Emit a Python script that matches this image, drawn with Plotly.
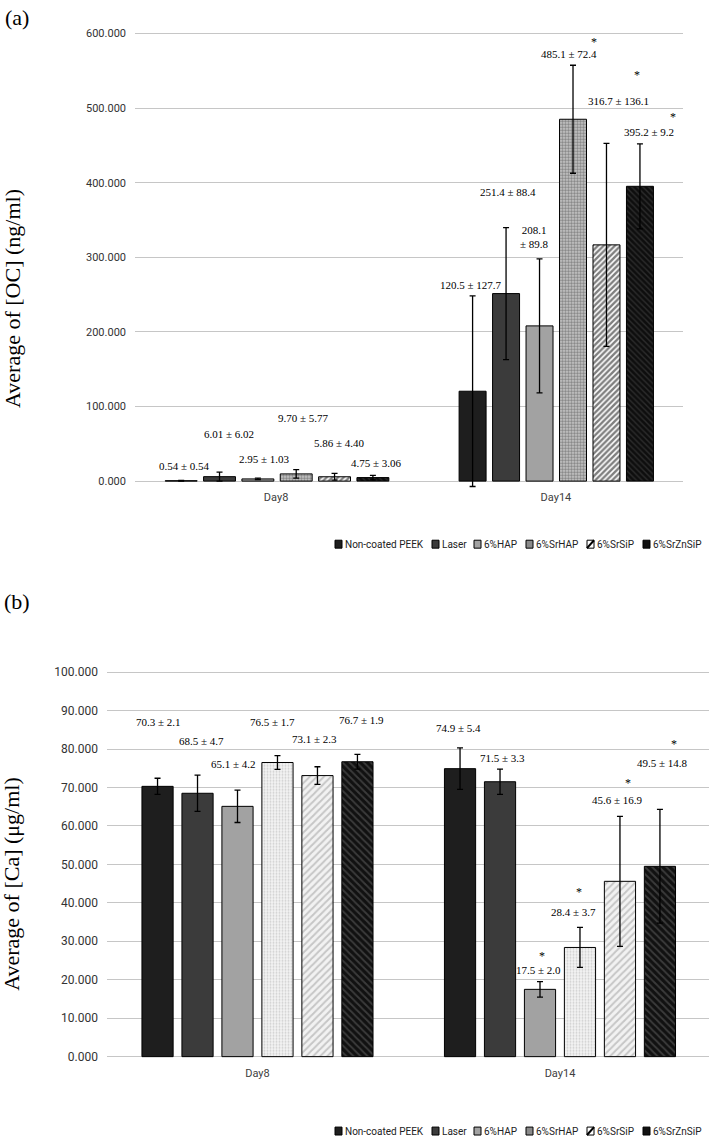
import plotly.graph_objects as go
from plotly.subplots import make_subplots

W, H = 709, 1144

groups = ["Non-coated PEEK", "Laser", "6%HAP", "6%SrHAP", "6%SrSiP", "6%SrZnSiP"]
days = ["Day8", "Day14"]

# (a) OC, ng/ml  (bar height, error half-width as drawn)
oc_day8 = [0.54, 6.01, 2.95, 9.70, 5.86, 4.75]
oc_day8_err = [0.54, 6.02, 1.03, 5.77, 4.40, 3.06]
oc_day14 = [120.5, 251.4, 208.1, 485.1, 316.7, 395.2]
oc_day14_err = [127.7, 88.4, 89.8, 72.4, 136.1, 57.0]
oc_day8_text = ["0.54 ± 0.54", "6.01 ± 6.02", "2.95 ± 1.03", "9.70 ± 5.77", "5.86 ± 4.40", "4.75 ± 3.06"]
oc_day14_text = ["120.5 ± 127.7", "251.4 ± 88.4", "208.1<br>± 89.8", "485.1 ± 72.4", "316.7 ± 136.1", "395.2 ± 9.2"]
oc_day8_text_y = [20, 63, 29, 84, 51, 24]
oc_day14_text_y = [263, 388, 327, 572, 509, 468]
oc_day14_star_y = [None, None, None, 593, 549, 492]

# (b) Ca, ug/ml
ca_day8 = [70.3, 68.5, 65.1, 76.5, 73.1, 76.7]
ca_day8_err = [2.1, 4.7, 4.2, 1.8, 2.3, 1.9]
ca_day14 = [74.9, 71.5, 17.5, 28.4, 45.6, 49.5]
ca_day14_err = [5.4, 3.3, 2.0, 5.2, 16.9, 14.8]
ca_day8_text = ["70.3 ± 2.1", "68.5 ± 4.7", "65.1 ± 4.2", "76.5 ± 1.7", "73.1 ± 2.3", "76.7 ± 1.9"]
ca_day14_text = ["74.9 ± 5.4", "71.5 ± 3.3", "17.5 ± 2.0", "28.4 ± 3.7", "45.6 ± 16.9", "49.5 ± 14.8"]
ca_day8_text_y = [87.1, 82.2, 76.0, 87.1, 82.7, 87.6]
ca_day14_text_y = [85.5, 77.8, 22.5, 37.5, 66.7, 76.5]
ca_day14_star_y = [None, None, 27.0, 43.6, 72.0, 82.2]

# label x offsets from bar centre (px)
oc_day8_dx = [3, 9, 7, 7, 5, 4]
oc_day14_dx = [-2, 2, -5, -4, 12, 9]
oc_star_dx = [0, 0, 0, 21, 31, 33]
ca_day8_dx = [1, 4, -4, -5, -3, 4]
ca_day14_dx = [-2, 2, -2, -6, -2, 3]
ca_star_dx = [0, 0, 2, -1, 8, 14]

# panel (a): Day8 and Day14 groups are drawn with different bar spacing
A_START = [-0.396, -0.346]
A_PITCH = [0.137, 0.1196]
A_WIDTH = [0.114, 0.0964]

# panel (b): ordinary grouped bars
B_BARGAP = 0.207
B_GROUPGAP = 0.22

SERIF = "Liberation Serif, Times New Roman, serif"
SANS = "Roboto, sans-serif"

colors = ["#1e1e1e", "#3b3b3b", "#a2a2a2", "#d9d9d9", "#ffffff", "#111111"]
patterns_a = [None, None, None,
              dict(shape=".", fgcolor="#3c3c3c", bgcolor="#cfcfcf", size=3, solidity=0.6),
              dict(shape="/", fgcolor="#000000", bgcolor="#ffffff", size=4, solidity=0.6),
              dict(shape="\\", fgcolor="#4a4a4a", bgcolor="#0e0e0e", size=4, solidity=0.35)]
patterns_b = [None, None, None,
              dict(shape=".", fgcolor="#a8a8a8", bgcolor="#f4f4f4", size=3, solidity=0.35),
              dict(shape="/", fgcolor="#9a9a9a", bgcolor="#f2f2f2", size=5, solidity=0.4),
              dict(shape="\\", fgcolor="#666666", bgcolor="#111111", size=5, solidity=0.35)]


def bar_x_a(c, i):
    return c + A_START[c] + A_PITCH[c] * i + A_WIDTH[c] / 2


def bar_x_b(c, i):
    w = 1 - B_BARGAP
    slot = w / len(groups)
    return c - w / 2 + slot * (i + 0.5)


def px(x):
    return x / W


def py(y):
    return 1 - y / H


fig = make_subplots(rows=2, cols=1)

for i, g in enumerate(groups):
    marker = dict(color=colors[i], line=dict(color="#000000", width=1))
    if patterns_a[i] is not None:
        marker["pattern"] = patterns_a[i]
    fig.add_trace(
        go.Bar(
            x=days, y=[oc_day8[i], oc_day14[i]], name=g, marker=marker, showlegend=False,
            offset=[A_START[c] + A_PITCH[c] * i for c in range(2)],
            width=A_WIDTH,
            error_y=dict(type="data", array=[oc_day8_err[i], oc_day14_err[i]],
                         color="#000000", thickness=1.3, width=3),
        ),
        row=1, col=1
    )

for i, g in enumerate(groups):
    marker = dict(color=colors[i], line=dict(color="#000000", width=1))
    if patterns_b[i] is not None:
        marker["pattern"] = patterns_b[i]
    fig.add_trace(
        go.Bar(
            x=days, y=[ca_day8[i], ca_day14[i]], name=g, marker=marker, showlegend=False,
            error_y=dict(type="data", array=[ca_day8_err[i], ca_day14_err[i]],
                         color="#000000", thickness=1.3, width=3),
        ),
        row=2, col=1
    )

annotations = []


def value_labels(xref, yref, xfun, c, texts, ys, dxs):
    for i, t in enumerate(texts):
        annotations.append(dict(
            x=xfun(c, i), y=ys[i], xref=xref, yref=yref, text=t, showarrow=False,
            xshift=dxs[i], font=dict(family=SERIF, size=11, color="#000000"),
            xanchor="center", yanchor="middle"
        ))


def star_labels(xref, yref, xfun, c, ys, dxs):
    for i, y in enumerate(ys):
        if y is None:
            continue
        annotations.append(dict(
            x=xfun(c, i), y=y, xref=xref, yref=yref, text="*", showarrow=False,
            xshift=dxs[i], yshift=-3, font=dict(family=SERIF, size=12, color="#000000"),
            xanchor="center", yanchor="middle"
        ))


value_labels("x", "y", bar_x_a, 0, oc_day8_text, oc_day8_text_y, oc_day8_dx)
value_labels("x", "y", bar_x_a, 1, oc_day14_text, oc_day14_text_y, oc_day14_dx)
star_labels("x", "y", bar_x_a, 1, oc_day14_star_y, oc_star_dx)
value_labels("x2", "y2", bar_x_b, 0, ca_day8_text, ca_day8_text_y, ca_day8_dx)
value_labels("x2", "y2", bar_x_b, 1, ca_day14_text, ca_day14_text_y, ca_day14_dx)
star_labels("x2", "y2", bar_x_b, 1, ca_day14_star_y, ca_star_dx)

# panel letters and axis titles
annotations += [
    dict(x=px(3), y=py(15), xref="paper", yref="paper", text="(a)", showarrow=False,
         xanchor="left", yanchor="middle", font=dict(family=SERIF, size=22, color="#000000")),
    dict(x=px(2), y=py(603), xref="paper", yref="paper", text="(b)", showarrow=False,
         xanchor="left", yanchor="middle", font=dict(family=SERIF, size=22, color="#000000")),
    dict(x=px(13), y=py(298), xref="paper", yref="paper", text="Average of [OC] (ng/ml)",
         showarrow=False, textangle=-90, xanchor="center", yanchor="middle",
         font=dict(family=SERIF, size=22, color="#000000")),
    dict(x=px(12), y=py(887), xref="paper", yref="paper", text="Average of [Ca] (μg/ml)",
         showarrow=False, textangle=-90, xanchor="center", yanchor="middle",
         font=dict(family=SERIF, size=22, color="#000000")),
]

# hand-made legends under each panel
legend_swatch_x = [335, 432, 474, 526, 587, 643]
legend_fill = ["#1e1e1e", "#3b3b3b", "#a2a2a2", "#8a8a8a", "#ffffff", "#111111"]
shapes = []
for ly in [545, 1136]:
    for i, g in enumerate(groups):
        x0 = legend_swatch_x[i]
        shapes.append(dict(type="rect", xref="paper", yref="paper",
                           x0=px(x0), x1=px(x0 + 7), y0=py(ly + 4), y1=py(ly - 4),
                           fillcolor=legend_fill[i], line=dict(color="#000000", width=1)))
        if g == "6%SrSiP":
            shapes.append(dict(type="line", xref="paper", yref="paper",
                               x0=px(x0), x1=px(x0 + 7), y0=py(ly + 4), y1=py(ly - 4),
                               line=dict(color="#000000", width=2)))
        annotations.append(dict(x=px(x0 + 8), y=py(ly), xref="paper", yref="paper", text=g,
                                showarrow=False, xanchor="left", yanchor="middle",
                                font=dict(family=SANS, size=10, color="#222222")))

fig.update_layout(
    width=W, height=H,
    margin=dict(l=0, r=0, t=0, b=0),
    paper_bgcolor="#ffffff", plot_bgcolor="#ffffff",
    barmode="group", bargap=B_BARGAP, bargroupgap=B_GROUPGAP,
    showlegend=False,
    annotations=annotations,
    shapes=shapes,
)

fig.update_xaxes(showgrid=False, zeroline=False, showline=False, ticks="",
                 tickfont=dict(family=SANS, size=11, color="#404040"))
fig.update_yaxes(showline=False, zeroline=False, ticks="", gridcolor="#c6c6c6", gridwidth=1,
                 tickformat=".3f", tickfont=dict(family="Roboto, sans-serif", size=11, color="#333333"))

fig.update_layout(
    xaxis=dict(domain=[px(135), px(683)], range=[-0.504, 1.454]),
    yaxis=dict(domain=[py(489), py(27)], range=[-10, 605],
               tickvals=[0, 100, 200, 300, 400, 500, 600], ticklabelstandoff=8),
    xaxis2=dict(domain=[px(107), px(709)], range=[-0.4975, 1.4926], ticklabelstandoff=6),
    yaxis2=dict(domain=[py(1063), py(670)], range=[-0.5, 101],
                tickvals=list(range(0, 101, 10)), ticklabelstandoff=8,
                tickfont=dict(family="Roboto, sans-serif", size=12, color="#333333")),
)

# drop the browser's default page margin so the figure sits at the window corner
fig.write_html("out.html", config={"displayModeBar": False},
               post_script="document.body.style.margin = '0';")
